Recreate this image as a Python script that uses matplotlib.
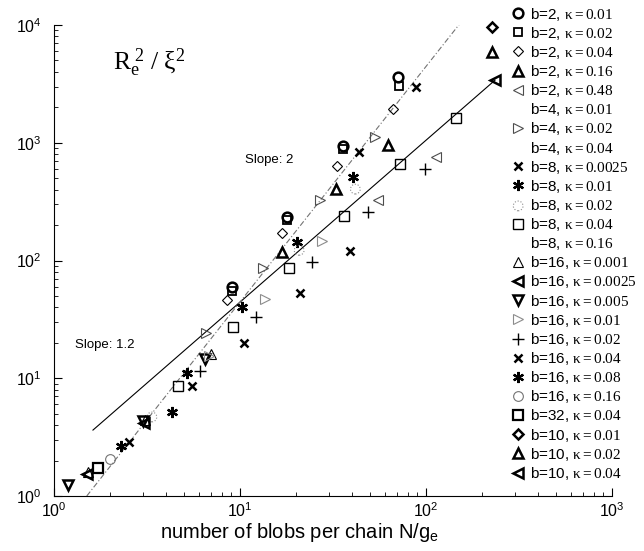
import matplotlib
matplotlib.use("Agg")
import matplotlib.pyplot as plt
from matplotlib.lines import Line2D

plt.rcParams['font.family'] = ['Liberation Sans', 'DejaVu Sans']
plt.rcParams['mathtext.fontset'] = 'custom'
plt.rcParams['mathtext.rm'] = 'Liberation Serif'
plt.rcParams['mathtext.it'] = 'Liberation Serif:italic'
plt.rcParams['mathtext.sf'] = 'Liberation Sans'

# (b, kappa) runs: N/g_e against R_e^2/xi^2
labels = [
    ("b=2", "0.01"), ("b=2", "0.02"), ("b=2", "0.04"), ("b=2", "0.16"),
    ("b=2", "0.48"), ("b=4", "0.01"), ("b=4", "0.02"), ("b=4", "0.04"),
    ("b=8", "0.0025"), ("b=8", "0.01"), ("b=8", "0.02"), ("b=8", "0.04"),
    ("b=8", "0.16"), ("b=16", "0.001"), ("b=16", "0.0025"), ("b=16", "0.005"),
    ("b=16", "0.01"), ("b=16", "0.02"), ("b=16", "0.04"), ("b=16", "0.08"),
    ("b=16", "0.16"), ("b=32", "0.04"), ("b=10", "0.01"), ("b=10", "0.02"),
    ("b=10", "0.04"),
]

x_b2_k001 = [9.06, 17.9, 35.8, 70.7]
y_b2_k001 = [59, 232, 930, 3605]
x_b2_k002 = [9.06, 17.9, 35.8, 71.3]
y_b2_k002 = [55, 220, 890, 3020]
x_b2_k004 = [8.5, 16.8, 33.2, 66.5]
y_b2_k004 = [46, 171, 633, 1928]
x_b2_k016 = [16.8, 32.8, 62.5]
y_b2_k016 = [118, 404, 955]
x_b2_k048 = [55.2, 113]
y_b2_k048 = [326, 755]
x_b4_k001 = []
y_b4_k001 = []
x_b4_k002 = [6.6, 13.3, 26.9, 53.2]
y_b4_k002 = [24, 86, 326, 1116]
x_b4_k004 = []
y_b4_k004 = []
x_b8_k00025 = [2.53, 43.6, 88.4]
y_b8_k00025 = [2.87, 832, 2965]
x_b8_k001 = [5.2, 10.3, 20.3, 40.5]
y_b8_k001 = [11, 40, 143, 510]
x_b8_k002 = [3.36, 20.8, 41.7]
y_b8_k002 = [4.69, 122, 404]
x_b8_k004 = [4.64, 9.2, 18.3, 36.3, 72.6, 145]
y_b8_k004 = [8.59, 27, 86, 238, 658, 1618]
x_b8_k016 = []
y_b8_k016 = []
x_b16_k0001 = [1.52, 3.1, 7.0]
y_b16_k0001 = [1.6, 4.4, 16]
x_b16_k00025 = [1.50, 3.05]
y_b16_k00025 = [1.54, 4.15]
x_b16_k0005 = [1.19, 3.0, 6.5]
y_b16_k0005 = [1.24, 4.3, 14.5]
x_b16_k001 = [6.8, 13.6, 27.6]
y_b16_k001 = [15.5, 47, 146]
x_b16_k002 = [6.1, 12.2, 24.4, 48.8, 98.8]
y_b16_k002 = [11.5, 33, 97, 258, 597]
x_b16_k004 = [5.52, 10.5, 21.0, 39.0]
y_b16_k004 = [8.59, 20, 53, 120]
x_b16_k008 = [2.29, 4.31]
y_b16_k008 = [2.66, 5.17]
x_b16_k016 = [2.0]
y_b16_k016 = [2.06]
x_b32_k004 = [1.72]
y_b32_k004 = [1.73]
x_b10_k001 = [226]
y_b10_k001 = [9580]
x_b10_k002 = [226]
y_b10_k002 = [5875]
x_b10_k004 = [235]
y_b10_k004 = [3400]

series_x = [x_b2_k001, x_b2_k002, x_b2_k004, x_b2_k016, x_b2_k048,
            x_b4_k001, x_b4_k002, x_b4_k004, x_b8_k00025, x_b8_k001,
            x_b8_k002, x_b8_k004, x_b8_k016, x_b16_k0001, x_b16_k00025,
            x_b16_k0005, x_b16_k001, x_b16_k002, x_b16_k004, x_b16_k008,
            x_b16_k016, x_b32_k004, x_b10_k001, x_b10_k002, x_b10_k004]
series_y = [y_b2_k001, y_b2_k002, y_b2_k004, y_b2_k016, y_b2_k048,
            y_b4_k001, y_b4_k002, y_b4_k004, y_b8_k00025, y_b8_k001,
            y_b8_k002, y_b8_k004, y_b8_k016, y_b16_k0001, y_b16_k00025,
            y_b16_k0005, y_b16_k001, y_b16_k002, y_b16_k004, y_b16_k008,
            y_b16_k016, y_b32_k004, y_b10_k001, y_b10_k002, y_b10_k004]

# power-law guides
slope12_x = [1.62, 235]
slope12_y = [3.63, 3400]
slope2_x = [1.5, 155]
slope2_y = [1.0, 10680]

ASTERISK = (6, 2, 0)

# marker, size, edge width, colour, dotted edge
styles = [
    ('o', 7, 1.8, 'black', False), ('s', 6, 1.3, 'black', False),
    ('D', 5, 0.8, 'black', False), ('^', 7, 1.8, 'black', False),
    ('<', 7, 0.8, '0.3', False), ('None', 6, 1, 'black', False),
    ('>', 7, 0.8, '0.3', False), ('None', 6, 1, 'black', False),
    ('x', 6, 1.8, 'black', False), (ASTERISK, 8, 1.6, 'black', False),
    ('o', 7, 0.8, '0.55', True), ('s', 6.5, 1.0, 'black', False),
    ('None', 6, 1, 'black', False), ('^', 7, 0.8, 'black', False),
    ('<', 7, 1.8, 'black', False), ('v', 7, 1.8, 'black', False),
    ('>', 7, 0.8, '0.55', False), ('+', 8, 1.0, 'black', False),
    ('x', 6, 1.8, 'black', False), (ASTERISK, 8, 1.6, 'black', False),
    ('o', 7, 0.8, '0.45', False), ('s', 6.5, 1.6, 'black', False),
    ('D', 5.5, 1.8, 'black', False), ('^', 7, 1.8, 'black', False),
    ('<', 7, 1.8, 'black', False),
]

fig = plt.figure(figsize=(6.44, 5.51), dpi=100)
ax = fig.add_axes([54 / 644, 55 / 551, 558 / 644, 471 / 551])
ax.set_xscale('log')
ax.set_yscale('log')
ax.set_xlim(1, 1000)
ax.set_ylim(1, 1e4)

ax.plot(slope12_x, slope12_y, color='black', lw=0.8, zorder=1)
ax.plot(slope2_x, slope2_y, color='0.45', lw=0.8,
        linestyle=(0, (5, 2, 1, 2)), zorder=1)

handles = []
for (b, k), xs, ys, (m, ms, mew, col, dotted) in zip(labels, series_x, series_y, styles):
    if isinstance(m, str) and m == 'None':
        handle = Line2D([], [], linestyle='None', marker='None')
    elif dotted:
        handle = ax.scatter(xs, ys, s=ms ** 2, marker=m, facecolors='none',
                            edgecolors=col, linewidths=mew, linestyle=':',
                            zorder=3, clip_on=False)
    else:
        handle, = ax.plot(xs, ys, linestyle='None', marker=m, markersize=ms,
                          markeredgewidth=mew, markeredgecolor=col,
                          markerfacecolor='none', color=col,
                          zorder=3, clip_on=False)
    handle.set_label(b + ", $\\mathrm{κ=" + k + "}$")
    handles.append(handle)

ax.legend(handles=handles, loc='upper left',
          bbox_to_anchor=(509 / 644, 1 - 4 / 551),
          bbox_transform=fig.transFigure, frameon=False, fontsize=11,
          borderpad=0.1, handlelength=1.0, handletextpad=0.3,
          labelspacing=0.14, borderaxespad=0)

for side in ('top', 'right'):
    ax.spines[side].set_visible(False)
for side in ('left', 'bottom'):
    ax.spines[side].set_linewidth(0.8)

ax.tick_params(which='major', direction='in', length=6, width=0.8,
               labelsize=11.5)
ax.tick_params(which='minor', direction='in', length=3, width=0.6)
ax.tick_params(axis='x', which='major', pad=4)
ax.tick_params(axis='y', which='major', pad=9)

ax.set_xlabel('number of blobs per chain N/g$_\\mathsf{e}$', fontsize=14.5)
ax.xaxis.set_label_coords((300 - 54) / 558, -0.053)

ax.text(0.105, 0.905, "$\\mathrm{R_e^{\\ 2}\\ /\\ \\xi^{2}}$", transform=ax.transAxes,
        fontsize=18.5)
ax.text(245 / 644, 1 - 160 / 551, 'Slope: 2', transform=fig.transFigure,
        fontsize=9.5, va='center')
ax.text(75 / 644, 1 - 345 / 551, 'Slope: 1.2', transform=fig.transFigure,
        fontsize=9.5, va='center')

fig.savefig('out.png', dpi=100)
